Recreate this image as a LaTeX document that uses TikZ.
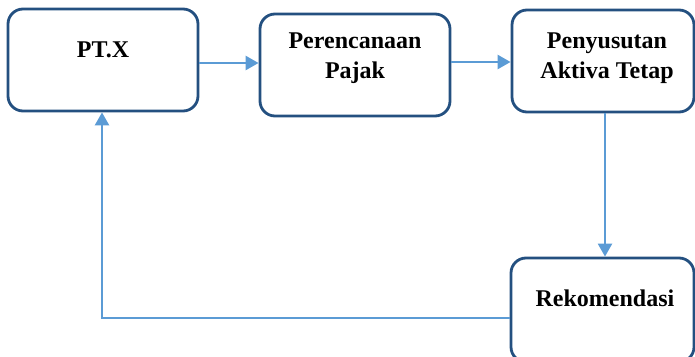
\documentclass[tikz,border=0pt]{standalone}
\usepackage{fontspec}
\setmainfont{Liberation Serif}
\usetikzlibrary{arrows.meta}
\definecolor{boxline}{HTML}{245080}
\definecolor{arrowblue}{HTML}{5B9BD5}
\begin{document}
\begin{tikzpicture}[x=1pt,y=-1pt,
  flowbox/.style={draw=boxline,line width=2.8pt,rounded corners=15pt,fill=white,inner sep=0pt},
  lbl/.style={font=\bfseries\fontsize{24}{30}\selectfont,align=center,inner sep=0pt},
  conn/.style={draw=arrowblue,line width=2.4pt,-{Triangle[length=13pt,width=14pt]}}]
\useasboundingbox (0,0) rectangle (695,356);
\begin{scope}
\clip (0,0) rectangle (695,356);
\node[flowbox,minimum width=190pt,minimum height=102pt] (ptx) at (103,60) {};
\node[flowbox,minimum width=190pt,minimum height=102pt] (plan) at (355,65) {};
\node[flowbox,minimum width=182pt,minimum height=102pt] (susut) at (603,61) {};
\node[flowbox,minimum width=183pt,minimum height=104pt] (rek) at (602.5,310) {};
\end{scope}
\node[lbl] (tptx) at (103,50) {PT.X};
\node[lbl] (tplan) at (355,58) {Perencanaan\\Pajak};
\node[lbl] (tsusut) at (607,58) {Penyusutan\\Aktiva Tetap};
\node[lbl] (trek) at (605,298) {Rekomendasi};
\draw[conn] ([yshift=-3pt]ptx.east) -- ([yshift=-3pt]ptx.east -| plan.west);
\draw[conn] ([yshift=3pt]plan.east) -- ([yshift=3pt]plan.east -| susut.west);
\draw[conn] ([xshift=2pt]susut.south) -- ([xshift=2pt]susut.south |- rek.north);
\draw[conn] ([yshift=-8pt]rek.west) -| ([xshift=-1pt]ptx.south);
\end{tikzpicture}
\end{document}
